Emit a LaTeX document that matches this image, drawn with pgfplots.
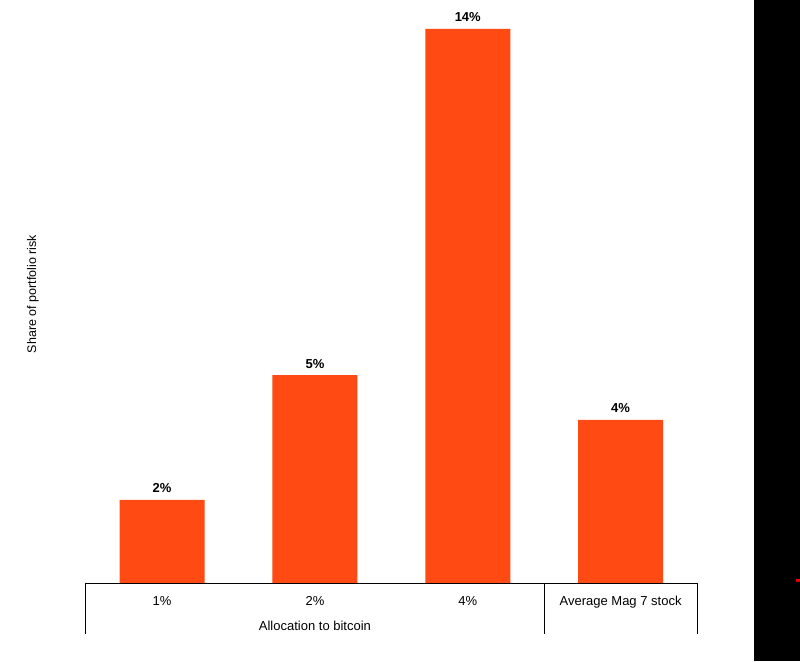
\documentclass[border=0pt]{standalone}
\usepackage{fontspec}
\setmainfont{Liberation Sans}
\usepackage{pgfplots}
\pgfplotsset{compat=1.18}
\definecolor{barred}{RGB}{255,74,20}

\begin{document}
\begin{tikzpicture}[x=1pt,y=1pt]
    % page background and the dark band on the right
    \fill[white] (0,0) rectangle (800,661);
    \fill[black] (754,0) rectangle (800,661);
    \fill[red!85!black] (796,79) rectangle (800,82);
    \begin{axis}[
            at={(85.7pt,78pt)}, anchor=south west,
            scale only axis,
            width=611.3pt, height=573.8pt,
            xmin=-0.5, xmax=3.5,
            ymin=0, ymax=14.5,
            axis x line=bottom,
            axis y line=none,
            axis line style={-, black, line width=0.8pt},
            xtick={0,1,2,3},
            xticklabels={1\%,2\%,4\%,Average Mag 7 stock},
            major tick length=0pt,
            xticklabel style={anchor=base, yshift=-22pt, inner sep=0pt,
                font=\fontsize{13}{15}\selectfont},
            clip=false,
            ybar, bar width=85pt, bar shift=0pt,
            point meta=explicit symbolic,
            nodes near coords,
            nodes near coords style={anchor=base, inner sep=0pt, yshift=7pt,
                font=\bfseries\fontsize{13}{15}\selectfont},
        ]
        \addplot[fill=barred, draw=none]
        coordinates {
                (0,2.1)  [2\%]
                (1,5.25) [5\%]
                (2,14)   [14\%]
                (3,4.12) [4\%]
            };
        % group separators below the axis
        \draw[black, line width=0.8pt] (axis cs:-0.5,0) -- ++(0pt,-51pt);
        \draw[black, line width=0.8pt] (axis cs:2.5,0) -- ++(0pt,-51pt);
        \draw[black, line width=0.8pt] (axis cs:3.5,0) -- ++(0pt,-51pt);
        \node[anchor=base, inner sep=0pt, font=\fontsize{13}{15}\selectfont]
            at ([yshift=-47pt]axis cs:1,0) {Allocation to bitcoin};
    \end{axis}
    \node[rotate=90, font=\fontsize{12.5}{15}\selectfont] at (33,367) {Share of portfolio risk};
    \pgfresetboundingbox
    \path (0,0) rectangle (800,661);
\end{tikzpicture}
\end{document}
